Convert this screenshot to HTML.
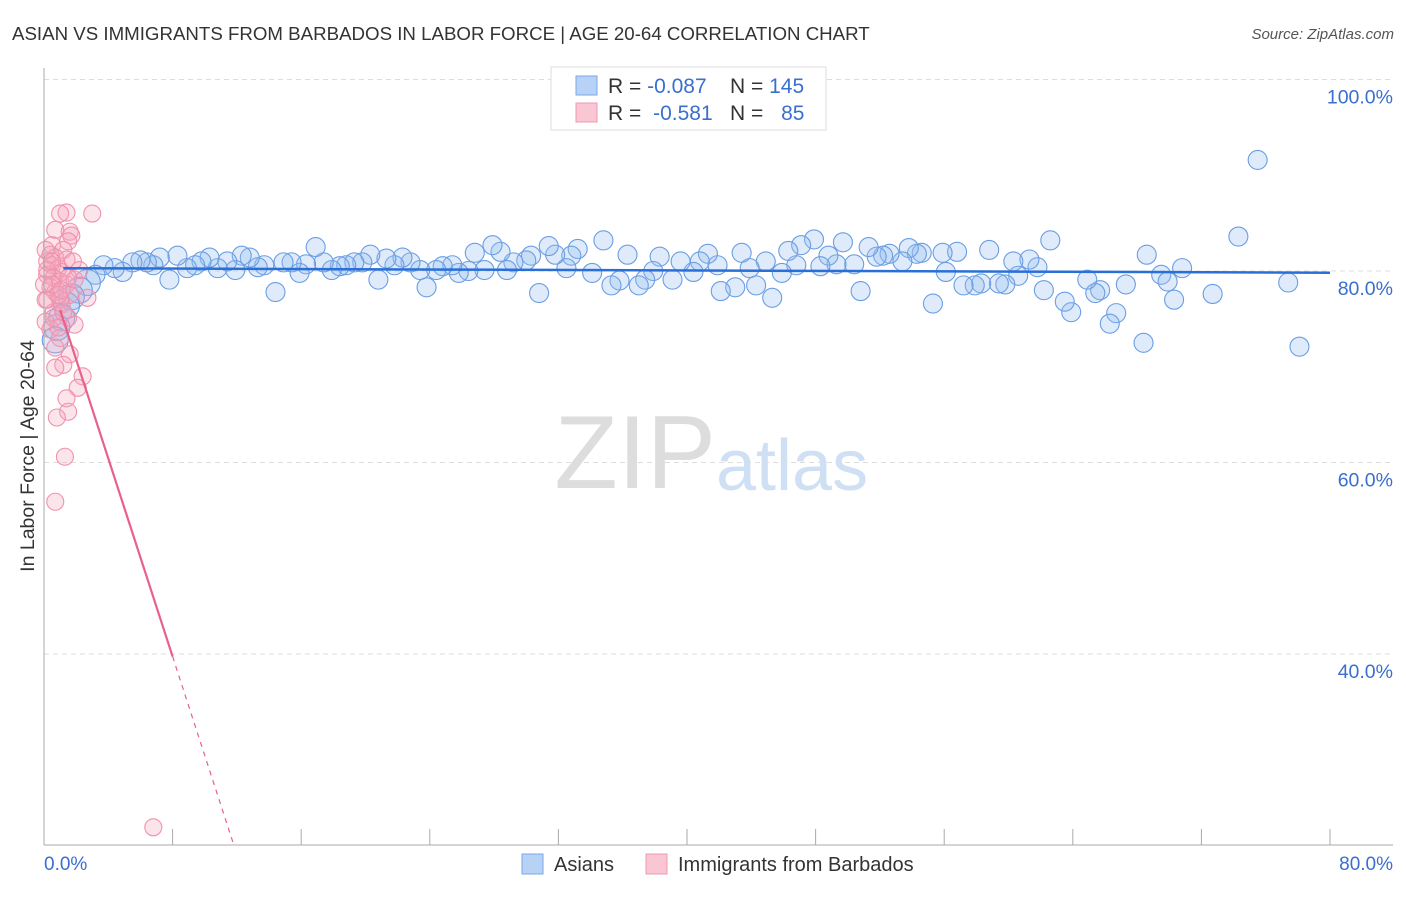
<!DOCTYPE html>
<html><head><meta charset="utf-8"><style>
body{margin:0;background:#fff;font-family:"Liberation Sans",sans-serif}
svg text{font-family:"Liberation Sans",sans-serif}
</style></head><body>
<svg width="1406" height="892" viewBox="0 0 1406 892">
<text x="12" y="40" font-size="18.7" fill="#333">ASIAN VS IMMIGRANTS FROM BARBADOS IN LABOR FORCE | AGE 20-64 CORRELATION CHART</text>
<text x="1394" y="39" font-size="15" fill="#555" text-anchor="end" font-style="italic">Source: ZipAtlas.com</text>
<g id="grid"></g>
<text x="716" y="488" font-size="104" fill="#ddd" text-anchor="end" font-family="Liberation Serif">ZIP</text>
<text x="716" y="490" font-size="72" fill="#cfe0f5">atlas</text>
<g id="pts"></g>
<g id="axes"></g>
<text transform="translate(34,456) rotate(-90)" font-size="19.5" fill="#333" text-anchor="middle">In Labor Force | Age 20-64</text>
<g>
<rect x="551" y="67" width="275" height="63" fill="#fff" stroke="#ddd"/>
<rect x="576" y="76" width="21" height="19" fill="#b8d2f5" stroke="#7aa8e8"/>
<rect x="576" y="103" width="21" height="19" fill="#f9c6d4" stroke="#ee98b0"/>
<text x="608" y="93" font-size="21" fill="#333">R = <tspan fill="#3a6fd0">-0.087</tspan></text>
<text x="730" y="93" font-size="21" fill="#333">N = <tspan fill="#3a6fd0">145</tspan></text>
<text x="608" y="120" font-size="21" fill="#333">R = <tspan fill="#3a6fd0" dx="6">-0.581</tspan></text>
<text x="730" y="120" font-size="21" fill="#333">N = <tspan fill="#3a6fd0" dx="12">85</tspan></text>
</g>
<g>
<rect x="522" y="854" width="21" height="20" fill="#b8d2f5" stroke="#7aa8e8"/>
<text x="554" y="871" font-size="20" fill="#333">Asians</text>
<rect x="646" y="854" width="21" height="20" fill="#f9c6d4" stroke="#ee98b0"/>
<text x="678" y="871" font-size="20" fill="#333">Immigrants from Barbados</text>
</g>
</svg>
<script>
const yTicks=[100,80,60,40];
const yTickLabels=["100.0%","80.0%","60.0%","40.0%"];
const xTicks=[0,8,16,24,32,40,48,56,64,72,80];
const asianX=[75.5,78.1,74.3,77.4,72.7,70.8,69.5,69.9,70.3,68.6,68.4,67.3,66.7,66.3,65.7,65.4,64.9,63.9,63.5,62.6,62.2,61.8,61.3,60.6,60.3,59.8,59.4,58.8,58.3,57.9,57.2,56.8,56.1,55.9,55.3,54.6,54.3,53.8,53.4,52.6,52.2,51.8,51.3,50.8,50.4,49.7,49.3,48.8,48.3,47.9,47.1,46.8,46.3,45.9,45.3,44.9,44.3,43.9,43.4,43.0,42.1,41.9,41.3,40.8,40.4,39.6,39.1,38.3,37.9,37.4,37.0,36.3,35.8,35.3,34.8,34.1,33.2,32.8,32.5,31.8,31.4,30.8,30.3,30.0,29.2,28.8,28.4,27.9,27.4,26.8,26.4,25.8,25.4,24.8,24.4,23.8,23.4,22.8,22.3,21.8,21.3,20.8,20.3,19.8,19.3,18.8,18.4,17.9,17.4,16.9,16.3,15.9,15.4,14.9,14.4,13.7,13.3,12.8,12.3,11.9,11.4,10.8,10.3,9.8,9.4,8.9,8.3,7.8,7.2,6.8,6.4,6.0,5.5,4.9,4.4,3.7,3.2,2.7,2.2,1.7,1.4,1.1,0.8,0.7];
const asianY=[91.6,72.1,83.6,78.8,77.6,80.3,79.6,78.9,77.0,81.7,72.5,78.6,75.6,74.5,78.0,77.7,79.1,75.7,76.8,83.2,78.0,80.4,81.2,79.5,81.0,78.6,78.7,82.2,78.7,78.5,78.5,82.0,79.9,81.9,76.6,81.9,81.8,82.4,81.0,81.8,81.6,81.5,82.5,77.9,80.7,83.0,80.7,81.6,80.5,83.3,82.7,80.6,82.1,79.8,77.2,81.0,78.5,80.3,81.9,78.3,77.9,80.6,81.8,81.0,79.9,81.0,79.1,81.5,80.0,79.1,78.5,81.7,79.0,78.5,83.2,79.8,82.3,81.6,80.3,81.7,82.6,77.7,81.6,81.1,80.9,80.1,82.0,82.7,80.1,81.9,80.0,79.8,80.6,80.5,80.1,78.3,80.1,80.9,81.4,80.6,81.3,79.1,81.7,80.9,80.9,80.6,80.5,80.1,80.9,82.5,80.7,79.8,80.9,80.9,77.8,80.6,80.4,81.4,81.6,80.1,81.0,80.3,81.4,81.0,80.6,80.3,81.6,79.1,81.4,80.6,80.9,81.1,80.9,79.9,80.3,80.6,79.6,78.8,78.0,77.3,76.4,75.1,74.1,72.8];
const barbX=[1.4,3.0,1.0,0.7,1.6,1.7,1.5,0.5,1.2,0.4,0.7,0.2,0.5,0.9,1.1,0.2,0.6,1.0,1.4,0.4,0.7,1.6,0.2,1.1,0.6,1.5,1.9,0.4,1.0,0.7,1.6,1.2,0.7,2.4,2.1,1.4,1.5,0.8,1.3,0.7,6.8,2.7,1.9,2.2,0.1,1.0,0.2,0.5,0.9,1.4,1.8,0.1,1.1,0.6,1.2,0.9,0.1,0.5,1.5,0.0];
const barbY=[86.1,86.0,86.0,84.3,84.1,83.7,83.1,82.7,82.2,81.7,81.4,81.0,80.6,80.3,79.9,79.6,79.3,78.9,78.6,78.3,77.8,77.5,77.0,76.5,75.7,75.1,74.4,73.9,73.0,72.0,71.3,70.2,69.9,69.0,67.8,66.7,65.3,64.7,60.6,55.9,21.9,77.2,79.1,80.1,77.0,77.0,80.1,78.6,77.5,81.2,81.0,82.2,78.0,75.1,75.7,74.1,74.7,81.0,79.3,78.6];
const asianTrend=[80.3,-0.006];
const barbTrend=[81.1,-5.17];
const X0=44,X1=1330,Y0=79.5,PY=191.5/20;
const sx=v=>X0+v/80*(X1-X0), sy=v=>Y0+(100-v)*PY;
const NS="http://www.w3.org/2000/svg";
function mk(p,tag,at){const e=document.createElementNS(NS,tag);for(const k in at)e.setAttribute(k,at[k]);p.appendChild(e);return e;}
const grid=document.getElementById('grid'),axes=document.getElementById('axes'),pts=document.getElementById('pts');
yTicks.forEach((t,i)=>{const l=mk(grid,'line',{x1:X0,x2:1393,y1:sy(t),y2:sy(t),stroke:'#ddd','stroke-dasharray':'5,4'});


const tx=mk(axes,'text',{x:1393,y:sy(t)+24,'font-size':19.5,fill:'#3a6fd0','text-anchor':'end'});tx.textContent=yTickLabels[i];

});
mk(axes,'line',{x1:X0,x2:X0,y1:68,y2:845,stroke:'#aaa'});
mk(axes,'line',{x1:X0,x2:1393,y1:845,y2:845,stroke:'#aaa'});
xTicks.forEach(t=>{const l=mk(axes,'line',{x1:sx(t),x2:sx(t),y1:829,y2:845,stroke:'#aaa'});

});
let a=mk(axes,'text',{x:44,y:870,'font-size':19,fill:'#3a6fd0'});a.textContent='0.0%';


a=mk(axes,'text',{x:1393,y:870,'font-size':19,fill:'#3a6fd0','text-anchor':'end'});a.textContent='80.0%';


asianX.forEach((x,i)=>{const c=mk(pts,'circle',{cx:sx(x),cy:sy(asianY[i]),r:x<3?13:9.5,fill:'rgba(150,188,238,0.3)',stroke:'#6a9ee4','stroke-width':1.1});

});
barbX.forEach((x,i)=>{const c=mk(pts,'circle',{cx:sx(x),cy:sy(barbY[i]),r:8.5,fill:'rgba(245,165,190,0.3)',stroke:'#ef92ae','stroke-width':1.1});

});
let t=mk(pts,'line',{x1:sx(1.2),y1:sy(asianTrend[0]+asianTrend[1]*1.2),x2:sx(80),y2:sy(asianTrend[0]+asianTrend[1]*80),stroke:'#2a6fd8','stroke-width':2.5});


t=mk(pts,'line',{x1:sx(1),y1:sy(barbTrend[0]+barbTrend[1]*1),x2:sx(8),y2:sy(barbTrend[0]+barbTrend[1]*8),stroke:'#e8608c','stroke-width':2.2});


const xe=(barbTrend[0]-20)/-barbTrend[1];
t=mk(pts,'line',{x1:sx(8),y1:sy(barbTrend[0]+barbTrend[1]*8),x2:sx(xe),y2:sy(20),stroke:'#e8608c','stroke-width':1.2,'stroke-dasharray':'5,5'});


</script>
</body></html>
